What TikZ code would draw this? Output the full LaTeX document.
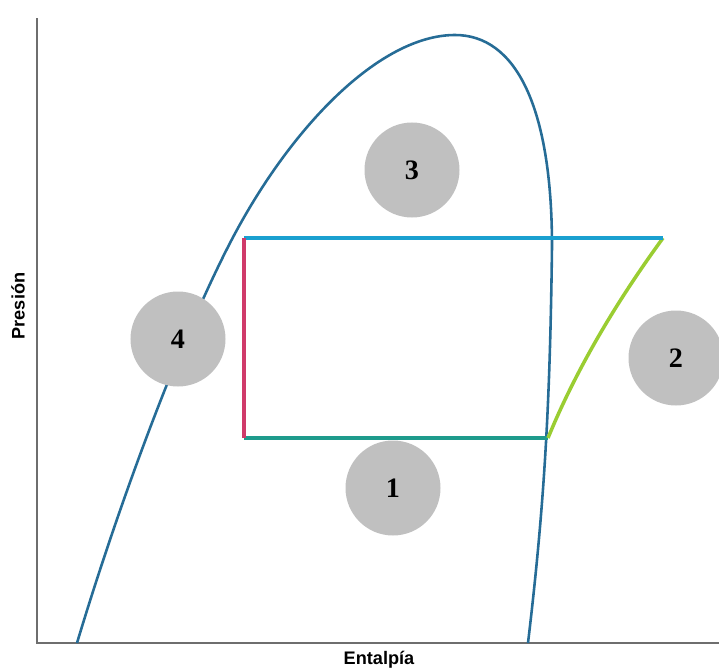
\documentclass[tikz,border=0pt]{standalone}
\usepackage{fontspec}
\setmainfont{Liberation Serif}
\setsansfont{Liberation Sans}
\definecolor{domeblue}{RGB}{38, 108, 150}
\definecolor{highblue}{RGB}{26, 160, 208}
\definecolor{lowteal}{RGB}{30, 155, 140}
\definecolor{valvered}{RGB}{208, 58, 106}
\definecolor{compgreen}{RGB}{154, 205, 50}
\definecolor{stategray}{RGB}{192, 192, 192}
\definecolor{axisgray}{RGB}{110, 110, 110}
\usetikzlibrary{positioning, calc}

\begin{document}
\begin{tikzpicture}[x=0.03cm, y=-0.03cm,
  estado/.style={circle, fill=stategray, minimum size=2.85cm, inner sep=0pt,
    font=\fontsize{24}{28}\selectfont\bfseries},
  eje/.style={font=\sffamily\bfseries\fontsize{15.5}{18}\selectfont}]
  \useasboundingbox (0, 0) rectangle (719, 671);

  % axes
  \coordinate (o) at (37, 643);
  \coordinate (ytop) at (37, 18);
  \coordinate (xend) at (719, 643);
  \draw[axisgray, line width=1.5pt] (ytop) -- (o) -- (xend);
  \node[eje, rotate=90] (ylab) at (18, 306) {Presión};
  \node[eje] (xlab) at (379, 660) {Entalpía};

  % saturation dome
  \coordinate (d0) at (77, 643);
  \coordinate (d1) at (230, 243);
  \coordinate (dtop) at (455, 35);
  \coordinate (d2) at (552, 247);
  \coordinate (d3) at (528, 643);
  \draw[domeblue, line width=2.2pt, line join=round]
    (d0) .. controls (120, 500) and (180, 340) .. (d1)
    .. controls (290, 127) and (380, 35) .. (dtop)
    .. controls (515, 35) and (552, 105) .. (d2)
    .. controls (550, 400) and (545, 500) .. (d3);

  % cycle corners
  \coordinate (c1) at (244, 438);
  \coordinate (c2) at (548, 438);
  \coordinate (c3) at (663, 238);
  \coordinate (c4) at (244, 238);

  % evaporation: low pressure
  \draw[lowteal, line width=3.5pt] (c1) -- (c2);
  % compression
  \draw[compgreen, line width=3pt] (c2) .. controls (580, 360) and (625, 290) .. (c3);
  % condensation: high pressure
  \draw[highblue, line width=4pt] (c3) -- (c4);
  % expansion valve
  \draw[valvered, line width=3pt] (c4) -- (c1);

  % states
  \node[estado] (e1) at (393, 488) {1};
  \node[estado] (e2) at (676, 358) {2};
  \node[estado] (e3) at (412, 170) {3};
  \node[estado] (e4) at (178, 339) {4};
\end{tikzpicture}
\end{document}
